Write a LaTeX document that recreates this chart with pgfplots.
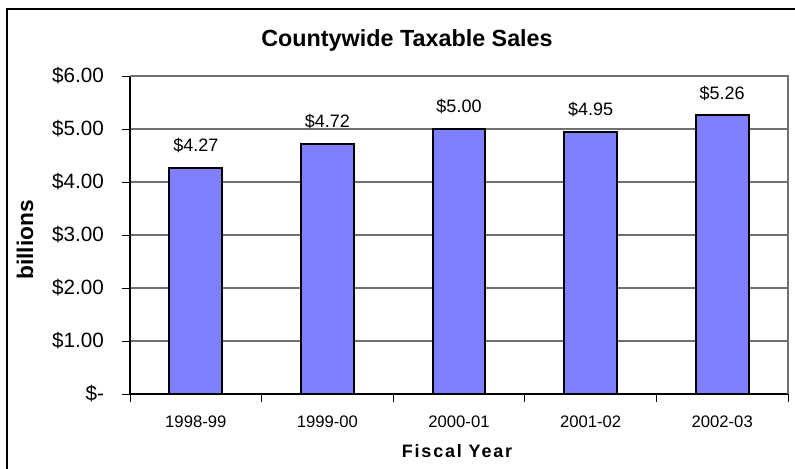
\documentclass[border=0pt]{standalone}
\usepackage{pgfplots}
\pgfplotsset{compat=1.18}
\usepackage{fontspec}
\setmainfont{Liberation Sans}
\newfontfamily\spacedfont[LetterSpace=10]{Liberation Sans}
\definecolor{barblue}{HTML}{8080FF}
\definecolor{gridgray}{HTML}{707070}
\begin{document}
\begin{tikzpicture}[x=0.75pt,y=-0.75pt]
\useasboundingbox (0,0) rectangle (795,468);
\begin{axis}[
  at={(97.5pt,-295.5pt)}, anchor=south west,
  scale only axis, width=493.5pt, height=238.5pt,
  xmin=-0.5, xmax=4.5, ymin=0, ymax=6,
  axis x line*=bottom, axis y line*=left,
  axis line style={-, black, line width=0.8pt},
  xtick={0,1,2,3,4},
  xticklabels={1998-99,1999-00,2000-01,2001-02,2002-03},
  minor xtick={-0.5,0.5,1.5,2.5,3.5,4.5},
  ytick={0,1,2,3,4,5,6},
  yticklabels={\$-,\$1.00,\$2.00,\$3.00,\$4.00,\$5.00,\$6.00},
  tick align=outside,
  major tick length=6pt,
  minor tick length=6pt,
  xtick style={draw=none},
  minor x tick style={draw=black, line width=0.6pt},
  ytick style={draw=black, line width=0.6pt},
  ymajorgrids, grid style={gridgray, line width=0.8pt},
  yticklabel style={font=\fontsize{15.5}{18}\selectfont, xshift=-10pt},
  xticklabel style={font=\fontsize{12.5}{15}\selectfont, yshift=-7pt},
  ybar, bar width=0.4,
  nodes near coords={\$\pgfmathprintnumber[fixed,fixed zerofill,precision=2,assume math mode=true]{\pgfplotspointmeta}},
  every node near coord/.append style={font=\fontsize{13.5}{16}\selectfont, yshift=7pt, black},
  clip=false,
]
\addplot[fill=barblue, draw=black, line width=1.5pt] coordinates {
  (0,4.27) (1,4.72) (2,5.00) (3,4.95) (4,5.26)
};
\draw[gridgray, line width=0.8pt] (rel axis cs:0,1) -- (rel axis cs:1,1) -- (rel axis cs:1,0);
\end{axis}
\node[font=\fontsize{17.5}{21}\bfseries] at (407,40) {Countywide Taxable Sales};
\node[font=\fontsize{17}{20}\bfseries, rotate=90] at (25,240) {billions};
\node[font=\fontsize{13.5}{16}\spacedfont\bfseries] at (457,451) {Fiscal Year};
\draw[overlay, black, line width=1.5pt] (7,9) rectangle (810,480);
\end{tikzpicture}
\end{document}
